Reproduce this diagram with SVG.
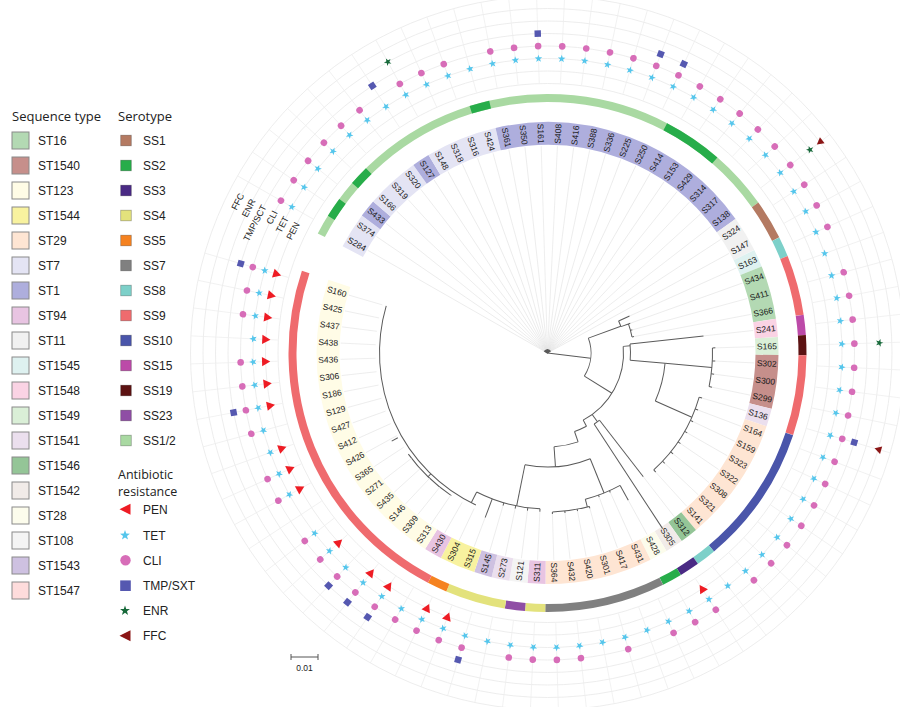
<svg xmlns="http://www.w3.org/2000/svg" width="900" height="707" viewBox="0 0 900 707">
<style>
.hd{font-family:"Open Sans","Liberation Sans",sans-serif;font-size:13px;fill:#222}
.hd2{font-family:"Open Sans","Liberation Sans",sans-serif;font-size:12.5px;fill:#222}
.lg{font-family:"Liberation Sans",Arial,sans-serif;font-size:12px;fill:#222}
.lb{font-family:"Liberation Sans",Arial,sans-serif;font-size:8.5px;fill:#1a1a1a;text-anchor:middle;dominant-baseline:central}
.rl{font-family:"Liberation Sans",Arial,sans-serif;font-size:9px;fill:#222;text-anchor:end;dominant-baseline:central}
.gd{stroke:#e3e3e3;stroke-width:0.6}
.gr{stroke:#ededed;stroke-width:0.7}
.ring{fill:none;stroke:#e8e8e8;stroke-width:0.8}
.stb{stroke:#8a8a8a;stroke-width:1}
.ssb{stroke:rgba(0,0,0,0.3);stroke-width:0.8}
</style>
<defs>
<path id="star" d="M4,0 L1.294,0.94 L1.236,3.804 L-0.494,1.522 L-3.236,2.351 L-1.6,0 L-3.236,-2.351 L-0.494,-1.522 L1.236,-3.804 L1.294,-0.94 Z"/>
<use id="tet" href="#star" fill="#55c6ec"/>
<use id="enr" href="#star" fill="#17693a"/>
<circle id="cli" r="3.3" fill="#d76db8"/>
<rect id="tmp" x="-3.2" y="-3.2" width="6.4" height="6.4" fill="#5558b0"/>
<path id="pen" d="M-4.6,0 L3.6,-4.6 L3.6,4.6 Z" fill="#ee1c24"/>
<path id="ffc" d="M-3.8,0 L3,-3.8 L3,3.8 Z" fill="#8b1616"/>
</defs>

<!-- Legend -->
<g id="legend-st">
<text class="hd" x="12" y="121">Sequence type</text>
<g class="stb">
<rect x="12" y="132" width="17" height="17" fill="#b3d9b3"/>
<rect x="12" y="157" width="17" height="17" fill="#c68f8b"/>
<rect x="12" y="182" width="17" height="17" fill="#fffce6"/>
<rect x="12" y="207" width="17" height="17" fill="#f8f29f"/>
<rect x="12" y="232" width="17" height="17" fill="#fee5d3"/>
<rect x="12" y="257" width="17" height="17" fill="#e4e4f4"/>
<rect x="12" y="282" width="17" height="17" fill="#aeaedd"/>
<rect x="12" y="307" width="17" height="17" fill="#e8c4e2"/>
<rect x="12" y="332" width="17" height="17" fill="#f1f1f1"/>
<rect x="12" y="357" width="17" height="17" fill="#def1f0"/>
<rect x="12" y="382" width="17" height="17" fill="#fad3e4"/>
<rect x="12" y="407" width="17" height="17" fill="#daefd7"/>
<rect x="12" y="432" width="17" height="17" fill="#ebdfee"/>
<rect x="12" y="457" width="17" height="17" fill="#94c597"/>
<rect x="12" y="482" width="17" height="17" fill="#f1ebe8"/>
<rect x="12" y="507" width="17" height="17" fill="#fcfcec"/>
<rect x="12" y="532" width="17" height="17" fill="#f4f4f4"/>
<rect x="12" y="557" width="17" height="17" fill="#cec1e1"/>
<rect x="12" y="582" width="17" height="17" fill="#fedcdc"/>
</g>
<g class="lg">
<text x="38" y="144.8">ST16</text>
<text x="38" y="169.8">ST1540</text>
<text x="38" y="194.8">ST123</text>
<text x="38" y="219.8">ST1544</text>
<text x="38" y="244.8">ST29</text>
<text x="38" y="269.8">ST7</text>
<text x="38" y="294.8">ST1</text>
<text x="38" y="319.8">ST94</text>
<text x="38" y="344.8">ST11</text>
<text x="38" y="369.8">ST1545</text>
<text x="38" y="394.8">ST1548</text>
<text x="38" y="419.8">ST1549</text>
<text x="38" y="444.8">ST1541</text>
<text x="38" y="469.8">ST1546</text>
<text x="38" y="494.8">ST1542</text>
<text x="38" y="519.8">ST28</text>
<text x="38" y="544.8">ST108</text>
<text x="38" y="569.8">ST1543</text>
<text x="38" y="594.8">ST1547</text>
</g>
</g>

<g id="legend-ss">
<text class="hd" x="118" y="121">Serotype</text>
<g class="ssb">
<rect x="120.7" y="135.2" width="10.6" height="10.6" fill="#b47a62"/>
<rect x="120.7" y="160.2" width="10.6" height="10.6" fill="#27ad4a"/>
<rect x="120.7" y="185.2" width="10.6" height="10.6" fill="#4a2a84"/>
<rect x="120.7" y="210.2" width="10.6" height="10.6" fill="#e3e27c"/>
<rect x="120.7" y="235.2" width="10.6" height="10.6" fill="#f58220"/>
<rect x="120.7" y="260.2" width="10.6" height="10.6" fill="#808080"/>
<rect x="120.7" y="285.2" width="10.6" height="10.6" fill="#7dd0c9"/>
<rect x="120.7" y="310.2" width="10.6" height="10.6" fill="#ef6b6e"/>
<rect x="120.7" y="335.2" width="10.6" height="10.6" fill="#4a55aa"/>
<rect x="120.7" y="360.2" width="10.6" height="10.6" fill="#bc4aa8"/>
<rect x="120.7" y="385.2" width="10.6" height="10.6" fill="#5c1212"/>
<rect x="120.7" y="410.2" width="10.6" height="10.6" fill="#8f4ea5"/>
<rect x="120.7" y="435.2" width="10.6" height="10.6" fill="#a9d9a2"/>
</g>
<g class="lg">
<text x="143" y="144.8">SS1</text>
<text x="143" y="169.8">SS2</text>
<text x="143" y="194.8">SS3</text>
<text x="143" y="219.8">SS4</text>
<text x="143" y="244.8">SS5</text>
<text x="143" y="269.8">SS7</text>
<text x="143" y="294.8">SS8</text>
<text x="143" y="319.8">SS9</text>
<text x="143" y="344.8">SS10</text>
<text x="143" y="369.8">SS15</text>
<text x="143" y="394.8">SS19</text>
<text x="143" y="419.8">SS23</text>
<text x="143" y="444.8">SS1/2</text>
</g>
</g>

<g id="legend-ab">
<text class="hd2" x="118" y="478.5">Antibiotic</text>
<text class="hd2" x="118" y="495.8">resistance</text>
<path d="M119.5,509.3 L130.5,503.8 L130.5,514.8 Z" fill="#ee1c24"/>
<use href="#star" fill="#55c6ec" transform="translate(125,535.3) rotate(-90) scale(1.3)"/>
<circle cx="125.5" cy="560.3" r="5.2" fill="#d76db8"/>
<rect x="120.2" y="580.4" width="10.6" height="10.6" fill="#5558b0"/>
<use href="#star" fill="#17693a" transform="translate(125,610.7) rotate(-90) scale(1.3)"/>
<path d="M119.5,635.7 L130.5,630.2 L130.5,641.2 Z" fill="#8b1616"/>
<g class="lg">
<text x="143" y="513.6">PEN</text>
<text x="143" y="539.6">TET</text>
<text x="143" y="564.6">CLI</text>
<text x="143" y="590">TMP/SXT</text>
<text x="143" y="615">ENR</text>
<text x="143" y="640">FFC</text>
</g>
</g>

<g id="scalebar" fill="none" stroke="#555" stroke-width="1">
<path d="M291,657 H318 M291,654 V660 M318,654 V660"/>
</g>
<text x="304.5" y="671" font-family="Liberation Sans, Arial, sans-serif" font-size="8.5" fill="#222" text-anchor="middle">0.01</text>

<g id="plot" transform="translate(547.5,353)">
<!-- grid rings -->
<g id="grid" class="ring">
<circle r="269.5"/><circle r="282"/><circle r="294.5"/><circle r="307"/><circle r="319.5"/><circle r="332"/><circle r="344.5"/><circle r="357"/>
</g>

<!-- sequence type label boxes -->
<g id="st-band" fill="none" stroke-width="23">
<circle r="219.5" pathLength="360" stroke-dasharray="9 400" transform="rotate(207.5)" stroke="#e4e4f4"/>
<circle r="219.5" pathLength="360" stroke-dasharray="4.5 400" transform="rotate(216.5)" stroke="#aeaedd"/>
<circle r="219.5" pathLength="360" stroke-dasharray="13.5 400" transform="rotate(221)" stroke="#e4e4f4"/>
<circle r="219.5" pathLength="360" stroke-dasharray="4.5 400" transform="rotate(234.5)" stroke="#aeaedd"/>
<circle r="219.5" pathLength="360" stroke-dasharray="18 400" transform="rotate(239)" stroke="#e4e4f4"/>
<circle r="219.5" pathLength="360" stroke-dasharray="67.5 400" transform="rotate(257)" stroke="#aeaedd"/>
<circle r="219.5" pathLength="360" stroke-dasharray="9 400" transform="rotate(324.5)" stroke="#f1f1f1"/>
<circle r="219.5" pathLength="360" stroke-dasharray="4.5 400" transform="rotate(333.5)" stroke="#def1f0"/>
<circle r="219.5" pathLength="360" stroke-dasharray="13.5 400" transform="rotate(338)" stroke="#b3d9b3"/>
<circle r="219.5" pathLength="360" stroke-dasharray="4.5 400" transform="rotate(351.5)" stroke="#fad3e4"/>
<circle r="219.5" pathLength="360" stroke-dasharray="4.5 400" transform="rotate(356)" stroke="#daefd7"/>
<circle r="219.5" pathLength="360" stroke-dasharray="13.5 400" transform="rotate(0.5)" stroke="#c68f8b"/>
<circle r="219.5" pathLength="360" stroke-dasharray="4.5 400" transform="rotate(14)" stroke="#ebdfee"/>
<circle r="219.5" pathLength="360" stroke-dasharray="31.5 400" transform="rotate(18.5)" stroke="#fee5d3"/>
<circle r="219.5" pathLength="360" stroke-dasharray="4.5 400" transform="rotate(50)" stroke="#94c597"/>
<circle r="219.5" pathLength="360" stroke-dasharray="4.5 400" transform="rotate(54.5)" stroke="#f1ebe8"/>
<circle r="219.5" pathLength="360" stroke-dasharray="4.5 400" transform="rotate(59)" stroke="#fcfcec"/>
<circle r="219.5" pathLength="360" stroke-dasharray="27 400" transform="rotate(63.5)" stroke="#fee5d3"/>
<circle r="219.5" pathLength="360" stroke-dasharray="4.5 400" transform="rotate(90.5)" stroke="#e8c4e2"/>
<circle r="219.5" pathLength="360" stroke-dasharray="4.5 400" transform="rotate(95)" stroke="#f4f4f4"/>
<circle r="219.5" pathLength="360" stroke-dasharray="4.5 400" transform="rotate(99.5)" stroke="#ebdfee"/>
<circle r="219.5" pathLength="360" stroke-dasharray="4.5 400" transform="rotate(104)" stroke="#cec1e1"/>
<circle r="219.5" pathLength="360" stroke-dasharray="9 400" transform="rotate(108.5)" stroke="#f8f29f"/>
<circle r="219.5" pathLength="360" stroke-dasharray="4.5 400" transform="rotate(117.5)" stroke="#e8c4e2"/>
<circle r="219.5" pathLength="360" stroke-dasharray="76.5 400" transform="rotate(122)" stroke="#fffce6"/>
</g>

<!-- serotype ring -->
<g id="ss-ring" fill="none" stroke-width="8">
<circle r="255" pathLength="360" stroke-dasharray="117 400" transform="rotate(207.5)" stroke="#a9d9a2"/>
<circle r="255" pathLength="360" stroke-dasharray="4.5 400" transform="rotate(212)" stroke="#27ad4a"/>
<circle r="255" pathLength="360" stroke-dasharray="4.5 400" transform="rotate(221)" stroke="#27ad4a"/>
<circle r="255" pathLength="360" stroke-dasharray="4.5 400" transform="rotate(252.5)" stroke="#27ad4a"/>
<circle r="255" pathLength="360" stroke-dasharray="13.5 400" transform="rotate(297.5)" stroke="#27ad4a"/>
<circle r="255" pathLength="360" stroke-dasharray="9 400" transform="rotate(324.5)" stroke="#b47a62"/>
<circle r="255" pathLength="360" stroke-dasharray="4.5 400" transform="rotate(333.5)" stroke="#7dd0c9"/>
<circle r="255" pathLength="360" stroke-dasharray="13.5 400" transform="rotate(338)" stroke="#ef6b6e"/>
<circle r="255" pathLength="360" stroke-dasharray="4.5 400" transform="rotate(351.5)" stroke="#bc4aa8"/>
<circle r="255" pathLength="360" stroke-dasharray="4.5 400" transform="rotate(356)" stroke="#5c1212"/>
<circle r="255" pathLength="360" stroke-dasharray="18 400" transform="rotate(0.5)" stroke="#ef6b6e"/>
<circle r="255" pathLength="360" stroke-dasharray="31.5 400" transform="rotate(18.5)" stroke="#4a55aa"/>
<circle r="255" pathLength="360" stroke-dasharray="4.5 400" transform="rotate(50)" stroke="#7dd0c9"/>
<circle r="255" pathLength="360" stroke-dasharray="4.5 400" transform="rotate(54.5)" stroke="#4a2a84"/>
<circle r="255" pathLength="360" stroke-dasharray="4.5 400" transform="rotate(59)" stroke="#27ad4a"/>
<circle r="255" pathLength="360" stroke-dasharray="27 400" transform="rotate(63.5)" stroke="#808080"/>
<circle r="255" pathLength="360" stroke-dasharray="4.5 400" transform="rotate(90.5)" stroke="#e3e27c"/>
<circle r="255" pathLength="360" stroke-dasharray="4.5 400" transform="rotate(95)" stroke="#8f4ea5"/>
<circle r="255" pathLength="360" stroke-dasharray="13.5 400" transform="rotate(99.5)" stroke="#e3e27c"/>
<circle r="255" pathLength="360" stroke-dasharray="4.5 400" transform="rotate(113)" stroke="#f58220"/>
<circle r="255" pathLength="360" stroke-dasharray="81 400" transform="rotate(117.5)" stroke="#ef6b6e"/>
</g>

<!-- ring titles -->
<g id="ring-labels" class="rl">
<text transform="rotate(207.5) translate(282) rotate(90)">PEN</text>
<text transform="rotate(207.5) translate(294.5) rotate(90)">TET</text>
<text transform="rotate(207.5) translate(307) rotate(90)">CLI</text>
<text transform="rotate(207.5) translate(319.5) rotate(90)">TMP/SCT</text>
<text transform="rotate(207.5) translate(332) rotate(90)">ENR</text>
<text transform="rotate(207.5) translate(344.5) rotate(90)">FFC</text>
</g>

<!-- tree -->
<g id="tree" fill="none" stroke="#5a5a5a" stroke-width="1">
<line x2="4" transform="rotate(209.75)"/><line x2="4" transform="rotate(218.75)"/><line x2="4" transform="rotate(227.75)"/><line x2="4" transform="rotate(236.75)"/><line x2="4" transform="rotate(245.75)"/><line x2="4" transform="rotate(254.75)"/><line x2="4" transform="rotate(263.75)"/><line x2="4" transform="rotate(272.75)"/><line x2="4" transform="rotate(281.75)"/><line x2="4" transform="rotate(290.75)"/><line x2="4" transform="rotate(299.75)"/><line x2="4" transform="rotate(308.75)"/><line x2="4" transform="rotate(317.75)"/><line x2="4" transform="rotate(326.75)"/>
<line x2="43.5" transform="rotate(7)"/>
<circle r="43.5" pathLength="360" stroke-dasharray="52 400" transform="rotate(-20)"/>
<line x1="43.5" x2="78" transform="rotate(-20)"/>
<circle r="78" pathLength="360" stroke-dasharray="4.5 400" transform="rotate(-24.25)"/>
<line x1="78" x2="90" transform="rotate(-24.25)"/>
<line x1="78" x2="86" transform="rotate(-19.75)"/>
<circle r="86" pathLength="360" stroke-dasharray="9 400" transform="rotate(-19.75)"/>
<line x1="86" x2="88" transform="rotate(-19.75)"/>
<line x1="86" x2="88" transform="rotate(-15.25)"/>
<line x1="86" x2="88" transform="rotate(-10.75)"/>
<line x1="43.5" x2="76" transform="rotate(32)"/>
<circle r="76" pathLength="360" stroke-dasharray="67 400" transform="rotate(-5)"/>
<line x1="76" x2="83" transform="rotate(-5)"/>
<circle r="83" pathLength="360" stroke-dasharray="11.25 400" transform="rotate(-6.25)"/>
<line x1="83" x2="157" transform="rotate(-6.25)"/>
<line x1="83" x2="118" transform="rotate(5)"/>
<circle r="118" pathLength="360" stroke-dasharray="19 400" transform="rotate(5)"/>
<line x1="118" x2="165" transform="rotate(5)"/>
<circle r="165" pathLength="360" stroke-dasharray="13.5 400" transform="rotate(-1.75)"/>
<line x1="165" x2="168" transform="rotate(-1.75)"/>
<line x1="165" x2="168" transform="rotate(2.75)"/>
<line x1="165" x2="168" transform="rotate(7.25)"/>
<line x1="165" x2="168" transform="rotate(11.75)"/>
<line x1="118" x2="158" transform="rotate(24)"/>
<circle r="158" pathLength="360" stroke-dasharray="31.5 400" transform="rotate(16.25)"/>
<line x1="158" x2="161" transform="rotate(16.25)"/>
<line x1="158" x2="161" transform="rotate(20.75)"/>
<line x1="158" x2="161" transform="rotate(25.25)"/>
<line x1="158" x2="161" transform="rotate(29.75)"/>
<line x1="158" x2="161" transform="rotate(34.25)"/>
<line x1="158" x2="161" transform="rotate(38.75)"/>
<line x1="158" x2="161" transform="rotate(43.25)"/>
<line x1="158" x2="161" transform="rotate(47.75)"/>
<line x1="76" x2="85" transform="rotate(54)"/>
<circle r="85" pathLength="360" stroke-dasharray="4.5 400" transform="rotate(52.25)"/>
<line x1="85" x2="156.5" transform="rotate(52.25)"/>
<line x1="85" x2="210" transform="rotate(56.75)"/>
<line x1="76" x2="83" transform="rotate(62)"/>
<circle r="83" pathLength="360" stroke-dasharray="9 400" transform="rotate(62)"/>
<line x1="83" x2="94" transform="rotate(71)"/>
<circle r="94" pathLength="360" stroke-dasharray="15 400" transform="rotate(71)"/>
<line x1="94" x2="114" transform="rotate(86)"/>
<circle r="114" pathLength="360" stroke-dasharray="33.4 400" transform="rotate(68)"/>
<line x1="114" x2="151" transform="rotate(68)"/>
<circle r="151" pathLength="360" stroke-dasharray="14.25 400" transform="rotate(61.25)"/>
<line x1="151" x2="168" transform="rotate(61.25)"/>
<line x1="151" x2="153" transform="rotate(65.75)"/>
<line x1="151" x2="153" transform="rotate(70.25)"/>
<line x1="151" x2="159" transform="rotate(75.5)"/>
<circle r="159" pathLength="360" stroke-dasharray="13.5 400" transform="rotate(74.75)"/>
<line x1="159" x2="161" transform="rotate(74.75)"/>
<line x1="159" x2="161" transform="rotate(79.25)"/>
<line x1="159" x2="161" transform="rotate(83.75)"/>
<line x1="159" x2="161" transform="rotate(88.25)"/>
<line x1="114" x2="156" transform="rotate(101.4)"/>
<circle r="156" pathLength="360" stroke-dasharray="24.25 400" transform="rotate(92.75)"/>
<line x1="156" x2="159" transform="rotate(92.75)"/>
<line x1="156" x2="159" transform="rotate(97.25)"/>
<line x1="156" x2="159" transform="rotate(101.75)"/>
<line x1="156" x2="159" transform="rotate(106.25)"/>
<line x1="156" x2="176" transform="rotate(110.75)"/>
<line x1="156" x2="168" transform="rotate(117)"/>
<circle r="168" pathLength="360" stroke-dasharray="81 400" transform="rotate(115.25)"/>
<circle r="172" pathLength="360" stroke-dasharray="20 400" transform="rotate(124)"/>
<line x1="168" x2="172" transform="rotate(134)"/>
<line x1="172" x2="179" transform="rotate(150.5)"/>
</g>

<!-- leaves -->
<g id="leaves" class="lb">
<g id="S284" transform="rotate(209.75)"><line class="gd" x1="4" x2="207"/><line class="gr" x1="270" x2="357"/><text transform="translate(219.5) rotate(180)">S284</text><use href="#tet" x="294.5"/><use href="#cli" x="307"/></g>
<g id="S374" transform="rotate(214.25)"><line class="gd" x1="4" x2="207"/><line class="gr" x1="270" x2="357"/><text transform="translate(219.5) rotate(180)">S374</text><use href="#tet" x="294.5"/><use href="#cli" x="307"/></g>
<g id="S433" transform="rotate(218.75)"><line class="gd" x1="4" x2="207"/><line class="gr" x1="270" x2="357"/><text transform="translate(219.5) rotate(180)">S433</text><use href="#tet" x="294.5"/><use href="#cli" x="307"/></g>
<g id="S166" transform="rotate(223.25)"><line class="gd" x1="4" x2="207"/><line class="gr" x1="270" x2="357"/><text transform="translate(219.5) rotate(180)">S166</text><use href="#tet" x="294.5"/><use href="#cli" x="307"/></g>
<g id="S319" transform="rotate(227.75)"><line class="gd" x1="4" x2="207"/><line class="gr" x1="270" x2="357"/><text transform="translate(219.5) rotate(180)">S319</text><use href="#tet" x="294.5"/><use href="#cli" x="307"/></g>
<g id="S320" transform="rotate(232.25)"><line class="gd" x1="4" x2="207"/><line class="gr" x1="270" x2="357"/><text transform="translate(219.5) rotate(180)">S320</text><use href="#tet" x="294.5"/><use href="#cli" x="307"/></g>
<g id="S127" transform="rotate(236.75)"><line class="gd" x1="4" x2="207"/><line class="gr" x1="270" x2="357"/><text transform="translate(219.5) rotate(180)">S127</text><use href="#tet" x="294.5"/><use href="#tmp" x="319.5"/></g>
<g id="S148" transform="rotate(241.25)"><line class="gd" x1="4" x2="207"/><line class="gr" x1="270" x2="357"/><text transform="translate(219.5) rotate(180)">S148</text><use href="#tet" x="294.5"/><use href="#cli" x="307"/><use href="#enr" x="332"/></g>
<g id="S318" transform="rotate(245.75)"><line class="gd" x1="4" x2="207"/><line class="gr" x1="270" x2="357"/><text transform="translate(219.5) rotate(180)">S318</text><use href="#tet" x="294.5"/><use href="#cli" x="307"/></g>
<g id="S316" transform="rotate(250.25)"><line class="gd" x1="4" x2="207"/><line class="gr" x1="270" x2="357"/><text transform="translate(219.5) rotate(180)">S316</text><use href="#tet" x="294.5"/><use href="#cli" x="307"/></g>
<g id="S424" transform="rotate(254.75)"><line class="gd" x1="4" x2="207"/><line class="gr" x1="270" x2="357"/><text transform="translate(219.5) rotate(180)">S424</text><use href="#tet" x="294.5"/></g>
<g id="S361" transform="rotate(259.25)"><line class="gd" x1="4" x2="207"/><line class="gr" x1="270" x2="357"/><text transform="translate(219.5) rotate(180)">S361</text><use href="#tet" x="294.5"/><use href="#cli" x="307"/></g>
<g id="S350" transform="rotate(263.75)"><line class="gd" x1="4" x2="207"/><line class="gr" x1="270" x2="357"/><text transform="translate(219.5) rotate(180)">S350</text><use href="#tet" x="294.5"/><use href="#cli" x="307"/></g>
<g id="S161" transform="rotate(268.25)"><line class="gd" x1="4" x2="207"/><line class="gr" x1="270" x2="357"/><text transform="translate(219.5) rotate(180)">S161</text><use href="#tet" x="294.5"/><use href="#cli" x="307"/><use href="#tmp" x="319.5"/></g>
<g id="S408" transform="rotate(272.75)"><line class="gd" x1="4" x2="207"/><line class="gr" x1="270" x2="357"/><text x="219.5">S408</text><use href="#tet" x="294.5"/><use href="#cli" x="307"/></g>
<g id="S416" transform="rotate(277.25)"><line class="gd" x1="4" x2="207"/><line class="gr" x1="270" x2="357"/><text x="219.5">S416</text><use href="#tet" x="294.5"/><use href="#cli" x="307"/></g>
<g id="S388" transform="rotate(281.75)"><line class="gd" x1="4" x2="207"/><line class="gr" x1="270" x2="357"/><text x="219.5">S388</text><use href="#tet" x="294.5"/><use href="#cli" x="307"/></g>
<g id="S336" transform="rotate(286.25)"><line class="gd" x1="4" x2="207"/><line class="gr" x1="270" x2="357"/><text x="219.5">S336</text><use href="#tet" x="294.5"/><use href="#cli" x="307"/></g>
<g id="S225" transform="rotate(290.75)"><line class="gd" x1="4" x2="207"/><line class="gr" x1="270" x2="357"/><text x="219.5">S225</text><use href="#tet" x="294.5"/><use href="#cli" x="307"/><use href="#tmp" x="319.5"/></g>
<g id="S250" transform="rotate(295.25)"><line class="gd" x1="4" x2="207"/><line class="gr" x1="270" x2="357"/><text x="219.5">S250</text><use href="#tet" x="294.5"/><use href="#cli" x="307"/><use href="#tmp" x="319.5"/></g>
<g id="S414" transform="rotate(299.75)"><line class="gd" x1="4" x2="207"/><line class="gr" x1="270" x2="357"/><text x="219.5">S414</text><use href="#tet" x="294.5"/><use href="#cli" x="307"/></g>
<g id="S153" transform="rotate(304.25)"><line class="gd" x1="4" x2="207"/><line class="gr" x1="270" x2="357"/><text x="219.5">S153</text><use href="#tet" x="294.5"/><use href="#cli" x="307"/></g>
<g id="S429" transform="rotate(308.75)"><line class="gd" x1="4" x2="207"/><line class="gr" x1="270" x2="357"/><text x="219.5">S429</text><use href="#tet" x="294.5"/><use href="#cli" x="307"/></g>
<g id="S314" transform="rotate(313.25)"><line class="gd" x1="4" x2="207"/><line class="gr" x1="270" x2="357"/><text x="219.5">S314</text><use href="#tet" x="294.5"/><use href="#cli" x="307"/></g>
<g id="S317" transform="rotate(317.75)"><line class="gd" x1="4" x2="207"/><line class="gr" x1="270" x2="357"/><text x="219.5">S317</text><use href="#tet" x="294.5"/><use href="#cli" x="307"/></g>
<g id="S138" transform="rotate(322.25)"><line class="gd" x1="4" x2="207"/><line class="gr" x1="270" x2="357"/><text x="219.5">S138</text><use href="#tet" x="294.5"/><use href="#cli" x="307"/><use href="#enr" x="332"/><use href="#ffc" x="344.5"/></g>
<g id="S324" transform="rotate(326.75)"><line class="gd" x1="4" x2="207"/><line class="gr" x1="270" x2="357"/><text x="219.5">S324</text><use href="#tet" x="294.5"/><use href="#cli" x="307"/></g>
<g id="S147" transform="rotate(331.25)"><line class="gd" x1="4" x2="207"/><line class="gr" x1="270" x2="357"/><text x="219.5">S147</text><use href="#tet" x="294.5"/><use href="#cli" x="307"/></g>
<g id="S163" transform="rotate(335.75)"><line class="gd" x1="90" x2="207"/><line class="gr" x1="270" x2="357"/><text x="219.5">S163</text><use href="#tet" x="294.5"/><use href="#cli" x="307"/></g>
<g id="S434" transform="rotate(340.25)"><line class="gd" x1="88" x2="207"/><line class="gr" x1="270" x2="357"/><text x="219.5">S434</text><use href="#tet" x="294.5"/></g>
<g id="S411" transform="rotate(344.75)"><line class="gd" x1="88" x2="207"/><line class="gr" x1="270" x2="357"/><text x="219.5">S411</text><use href="#tet" x="294.5"/><use href="#cli" x="307"/></g>
<g id="S366" transform="rotate(349.25)"><line class="gd" x1="88" x2="207"/><line class="gr" x1="270" x2="357"/><text x="219.5">S366</text><use href="#tet" x="294.5"/><use href="#cli" x="307"/></g>
<g id="S241" transform="rotate(353.75)"><line class="gd" x1="157" x2="207"/><line class="gr" x1="270" x2="357"/><text x="219.5">S241</text><use href="#tet" x="294.5"/><use href="#cli" x="307"/></g>
<g id="S165" transform="rotate(358.25)"><line class="gd" x1="168" x2="207"/><line class="gr" x1="270" x2="357"/><text x="219.5">S165</text><use href="#tet" x="294.5"/><use href="#cli" x="307"/><use href="#enr" x="332"/></g>
<g id="S302" transform="rotate(2.75)"><line class="gd" x1="168" x2="207"/><line class="gr" x1="270" x2="357"/><text x="219.5">S302</text><use href="#tet" x="294.5"/><use href="#cli" x="307"/></g>
<g id="S300" transform="rotate(7.25)"><line class="gd" x1="168" x2="207"/><line class="gr" x1="270" x2="357"/><text x="219.5">S300</text><use href="#tet" x="294.5"/><use href="#cli" x="307"/></g>
<g id="S299" transform="rotate(11.75)"><line class="gd" x1="168" x2="207"/><line class="gr" x1="270" x2="357"/><text x="219.5">S299</text><use href="#tet" x="294.5"/><use href="#cli" x="307"/></g>
<g id="S136" transform="rotate(16.25)"><line class="gd" x1="161" x2="207"/><line class="gr" x1="270" x2="357"/><text x="219.5">S136</text><use href="#tet" x="294.5"/><use href="#cli" x="307"/><use href="#tmp" x="319.5"/><use href="#ffc" x="344.5"/></g>
<g id="S164" transform="rotate(20.75)"><line class="gd" x1="161" x2="207"/><line class="gr" x1="270" x2="357"/><text x="219.5">S164</text><use href="#tet" x="294.5"/><use href="#cli" x="307"/></g>
<g id="S159" transform="rotate(25.25)"><line class="gd" x1="161" x2="207"/><line class="gr" x1="270" x2="357"/><text x="219.5">S159</text><use href="#tet" x="294.5"/><use href="#cli" x="307"/></g>
<g id="S323" transform="rotate(29.75)"><line class="gd" x1="161" x2="207"/><line class="gr" x1="270" x2="357"/><text x="219.5">S323</text><use href="#tet" x="294.5"/><use href="#cli" x="307"/></g>
<g id="S322" transform="rotate(34.25)"><line class="gd" x1="161" x2="207"/><line class="gr" x1="270" x2="357"/><text x="219.5">S322</text><use href="#tet" x="294.5"/><use href="#cli" x="307"/></g>
<g id="S308" transform="rotate(38.75)"><line class="gd" x1="161" x2="207"/><line class="gr" x1="270" x2="357"/><text x="219.5">S308</text><use href="#tet" x="294.5"/><use href="#cli" x="307"/></g>
<g id="S321" transform="rotate(43.25)"><line class="gd" x1="161" x2="207"/><line class="gr" x1="270" x2="357"/><text x="219.5">S321</text><use href="#tet" x="294.5"/><use href="#cli" x="307"/></g>
<g id="S141" transform="rotate(47.75)"><line class="gd" x1="161" x2="207"/><line class="gr" x1="270" x2="357"/><text x="219.5">S141</text><use href="#tet" x="294.5"/><use href="#cli" x="307"/></g>
<g id="S312" transform="rotate(52.25)"><line class="gd" x1="156.5" x2="207"/><line class="gr" x1="270" x2="357"/><text x="219.5">S312</text><use href="#tet" x="294.5"/></g>
<g id="S305" transform="rotate(56.75)"><line class="gr" x1="270" x2="357"/><text x="219.5">S305</text><use href="#pen" x="282"/><use href="#tet" x="294.5"/><use href="#cli" x="307"/></g>
<g id="S428" transform="rotate(61.25)"><line class="gd" x1="168" x2="207"/><line class="gr" x1="270" x2="357"/><text x="219.5">S428</text><use href="#tet" x="294.5"/><use href="#cli" x="307"/></g>
<g id="S431" transform="rotate(65.75)"><line class="gd" x1="153" x2="207"/><line class="gr" x1="270" x2="357"/><text x="219.5">S431</text><use href="#tet" x="294.5"/><use href="#cli" x="307"/></g>
<g id="S417" transform="rotate(70.25)"><line class="gd" x1="153" x2="207"/><line class="gr" x1="270" x2="357"/><text x="219.5">S417</text><use href="#tet" x="294.5"/></g>
<g id="S301" transform="rotate(74.75)"><line class="gd" x1="161" x2="207"/><line class="gr" x1="270" x2="357"/><text x="219.5">S301</text><use href="#tet" x="294.5"/><use href="#cli" x="307"/></g>
<g id="S420" transform="rotate(79.25)"><line class="gd" x1="161" x2="207"/><line class="gr" x1="270" x2="357"/><text x="219.5">S420</text><use href="#tet" x="294.5"/></g>
<g id="S432" transform="rotate(83.75)"><line class="gd" x1="161" x2="207"/><line class="gr" x1="270" x2="357"/><text x="219.5">S432</text><use href="#tet" x="294.5"/><use href="#cli" x="307"/></g>
<g id="S364" transform="rotate(88.25)"><line class="gd" x1="161" x2="207"/><line class="gr" x1="270" x2="357"/><text x="219.5">S364</text><use href="#tet" x="294.5"/><use href="#cli" x="307"/></g>
<g id="S311" transform="rotate(92.75)"><line class="gd" x1="159" x2="207"/><line class="gr" x1="270" x2="357"/><text transform="translate(219.5) rotate(180)">S311</text><use href="#tet" x="294.5"/><use href="#cli" x="307"/></g>
<g id="S121" transform="rotate(97.25)"><line class="gd" x1="159" x2="207"/><line class="gr" x1="270" x2="357"/><text transform="translate(219.5) rotate(180)">S121</text><use href="#tet" x="294.5"/><use href="#cli" x="307"/></g>
<g id="S273" transform="rotate(101.75)"><line class="gd" x1="159" x2="207"/><line class="gr" x1="270" x2="357"/><text transform="translate(219.5) rotate(180)">S273</text><use href="#tet" x="294.5"/></g>
<g id="S145" transform="rotate(106.25)"><line class="gd" x1="159" x2="207"/><line class="gr" x1="270" x2="357"/><text transform="translate(219.5) rotate(180)">S145</text><use href="#tet" x="294.5"/><use href="#cli" x="307"/><use href="#tmp" x="319.5"/></g>
<g id="S315" transform="rotate(110.75)"><line class="gd" x1="176" x2="207"/><line class="gr" x1="270" x2="357"/><text transform="translate(219.5) rotate(180)">S315</text><use href="#pen" x="282"/><use href="#tet" x="294.5"/><use href="#cli" x="307"/></g>
<g id="S304" transform="rotate(115.25)"><line class="gd" x1="172" x2="207"/><line class="gr" x1="270" x2="357"/><text transform="translate(219.5) rotate(180)">S304</text><use href="#pen" x="282"/><use href="#tet" x="294.5"/><use href="#cli" x="307"/></g>
<g id="S430" transform="rotate(119.75)"><line class="gd" x1="172" x2="207"/><line class="gr" x1="270" x2="357"/><text transform="translate(219.5) rotate(180)">S430</text><use href="#tet" x="294.5"/><use href="#cli" x="307"/></g>
<g id="S313" transform="rotate(124.25)"><line class="gd" x1="172" x2="207"/><line class="gr" x1="270" x2="357"/><text transform="translate(219.5) rotate(180)">S313</text><use href="#pen" x="282"/><use href="#tet" x="294.5"/><use href="#cli" x="307"/><use href="#tmp" x="319.5"/></g>
<g id="S309" transform="rotate(128.75)"><line class="gd" x1="172" x2="207"/><line class="gr" x1="270" x2="357"/><text transform="translate(219.5) rotate(180)">S309</text><use href="#pen" x="282"/><use href="#tet" x="294.5"/><use href="#cli" x="307"/><use href="#tmp" x="319.5"/></g>
<g id="S146" transform="rotate(133.25)"><line class="gd" x1="172" x2="207"/><line class="gr" x1="270" x2="357"/><text transform="translate(219.5) rotate(180)">S146</text><use href="#tet" x="294.5"/><use href="#cli" x="307"/><use href="#tmp" x="319.5"/></g>
<g id="S435" transform="rotate(137.75)"><line class="gd" x1="172" x2="207"/><line class="gr" x1="270" x2="357"/><text transform="translate(219.5) rotate(180)">S435</text><use href="#pen" x="282"/><use href="#tet" x="294.5"/><use href="#cli" x="307"/></g>
<g id="S271" transform="rotate(142.25)"><line class="gd" x1="172" x2="207"/><line class="gr" x1="270" x2="357"/><text transform="translate(219.5) rotate(180)">S271</text><use href="#tet" x="294.5"/><use href="#cli" x="307"/></g>
<g id="S365" transform="rotate(146.75)"><line class="gd" x1="172" x2="207"/><line class="gr" x1="270" x2="357"/><text transform="translate(219.5) rotate(180)">S365</text></g>
<g id="S426" transform="rotate(151.25)"><line class="gd" x1="172" x2="207"/><line class="gr" x1="270" x2="357"/><text transform="translate(219.5) rotate(180)">S426</text><use href="#pen" x="282"/><use href="#tet" x="294.5"/><use href="#cli" x="307"/></g>
<g id="S412" transform="rotate(155.75)"><line class="gd" x1="172" x2="207"/><line class="gr" x1="270" x2="357"/><text transform="translate(219.5) rotate(180)">S412</text><use href="#pen" x="282"/><use href="#tet" x="294.5"/><use href="#cli" x="307"/></g>
<g id="S427" transform="rotate(160.25)"><line class="gd" x1="172" x2="207"/><line class="gr" x1="270" x2="357"/><text transform="translate(219.5) rotate(180)">S427</text><use href="#pen" x="282"/><use href="#tet" x="294.5"/></g>
<g id="S129" transform="rotate(164.75)"><line class="gd" x1="172" x2="207"/><line class="gr" x1="270" x2="357"/><text transform="translate(219.5) rotate(180)">S129</text><use href="#tet" x="294.5"/><use href="#cli" x="307"/></g>
<g id="S186" transform="rotate(169.25)"><line class="gd" x1="172" x2="207"/><line class="gr" x1="270" x2="357"/><text transform="translate(219.5) rotate(180)">S186</text><use href="#pen" x="282"/><use href="#tet" x="294.5"/><use href="#cli" x="307"/><use href="#tmp" x="319.5"/></g>
<g id="S306" transform="rotate(173.75)"><line class="gd" x1="172" x2="207"/><line class="gr" x1="270" x2="357"/><text transform="translate(219.5) rotate(180)">S306</text><use href="#pen" x="282"/><use href="#tet" x="294.5"/><use href="#cli" x="307"/></g>
<g id="S436" transform="rotate(178.25)"><line class="gd" x1="172" x2="207"/><line class="gr" x1="270" x2="357"/><text transform="translate(219.5) rotate(180)">S436</text><use href="#pen" x="282"/><use href="#tet" x="294.5"/><use href="#cli" x="307"/></g>
<g id="S438" transform="rotate(182.75)"><line class="gd" x1="172" x2="207"/><line class="gr" x1="270" x2="357"/><text transform="translate(219.5) rotate(180)">S438</text><use href="#pen" x="282"/><use href="#tet" x="294.5"/></g>
<g id="S437" transform="rotate(187.25)"><line class="gd" x1="172" x2="207"/><line class="gr" x1="270" x2="357"/><text transform="translate(219.5) rotate(180)">S437</text><use href="#pen" x="282"/><use href="#tet" x="294.5"/><use href="#cli" x="307"/></g>
<g id="S425" transform="rotate(191.75)"><line class="gd" x1="172" x2="207"/><line class="gr" x1="270" x2="357"/><text transform="translate(219.5) rotate(180)">S425</text><use href="#pen" x="282"/><use href="#tet" x="294.5"/><use href="#cli" x="307"/></g>
<g id="S160" transform="rotate(196.25)"><line class="gd" x1="172" x2="207"/><line class="gr" x1="270" x2="357"/><text transform="translate(219.5) rotate(180)">S160</text><use href="#pen" x="282"/><use href="#tet" x="294.5"/><use href="#cli" x="307"/><use href="#tmp" x="319.5"/></g>
</g>
</g>
</svg>
